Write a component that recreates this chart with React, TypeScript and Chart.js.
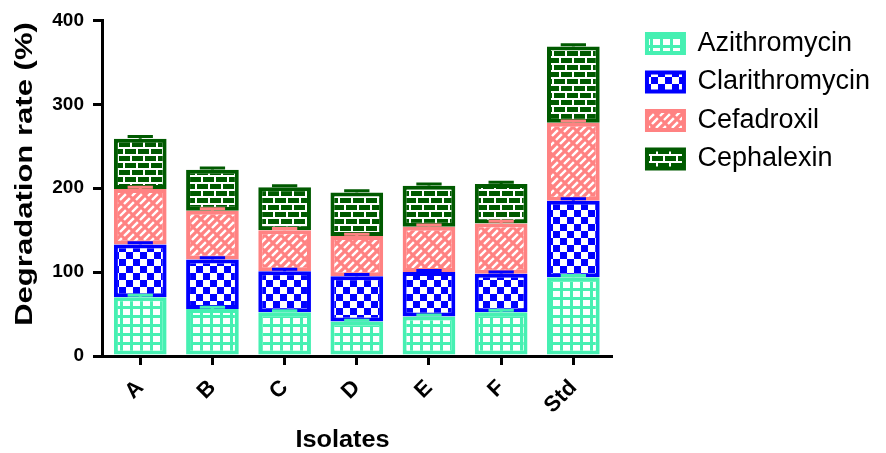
import React, { useEffect, useRef } from 'react';
import { Chart, registerables } from 'chart.js';

Chart.register(...registerables);

const FONT = "'Liberation Sans', Arial, Helvetica, sans-serif";

const categories = ['A', 'B', 'C', 'D', 'E', 'F', 'Std'];
const seriesNames = ['Azithromycin', 'Clarithromycin', 'Cefadroxil', 'Cephalexin'];

const azithromycin = [70, 56, 52, 41, 47, 52, 94];
const clarithromycin = [63, 59, 49, 54, 53, 46, 91];
const cefadroxil = [66, 58, 49, 48, 54, 60, 93];
const cephalexin = [60, 49, 51, 52, 49, 47, 91];

const azithromycinErr = [2.5, 2, 2, 1.5, 2, 2.5, 2];
const clarithromycinErr = [2, 2, 2.5, 2, 2, 2, 2.5];
const cefadroxilErr = [2, 2.5, 2, 2, 2, 2.5, 2];
const cephalexinErr = [2.5, 2, 2, 2, 2, 2, 2];

const yTicks = [0, 100, 200, 300, 400];
const yTitle = 'Degradation rate (%)';
const xTitle = 'Isolates';

const seriesValues = [azithromycin, clarithromycin, cefadroxil, cephalexin];
const seriesErrors = [azithromycinErr, clarithromycinErr, cefadroxilErr, cephalexinErr];
const colors = ['#46F0B2', '#0000FF', '#FF8282', '#005A00'];

function makePattern(kind: number, color: string): CanvasPattern | string {
  const c = document.createElement('canvas');
  const g = c.getContext('2d');
  if (!g) return color;
  if (kind === 0) {
    c.width = 10; c.height = 9;
    g.fillStyle = '#fff'; g.fillRect(0, 0, 10, 9);
    g.fillStyle = color;
    g.fillRect(0, 0, 3, 9);
    g.fillRect(0, 0, 10, 3);
  } else if (kind === 1) {
    c.width = 14; c.height = 14;
    g.fillStyle = '#fff'; g.fillRect(0, 0, 14, 14);
    g.fillStyle = color;
    g.fillRect(0, 0, 7, 7);
    g.fillRect(7, 7, 7, 7);
  } else if (kind === 2) {
    c.width = 16; c.height = 16;
    g.fillStyle = color; g.fillRect(0, 0, 16, 16);
    g.strokeStyle = '#fff'; g.lineWidth = 2.4;
    const period = 8 * Math.SQRT2;
    g.setLineDash([period - 3, 3]);
    for (let k = -3; k <= 6; k++) {
      const cc = k * 8;
      g.lineDashOffset = (((k % 2) + 2) % 2) * (period / 2);
      g.beginPath();
      g.moveTo(-16, cc + 16);
      g.lineTo(cc + 16, -16);
      g.stroke();
    }
  } else {
    c.width = 26; c.height = 14;
    g.fillStyle = color; g.fillRect(0, 0, 26, 14);
    g.fillStyle = '#fff';
    g.fillRect(0, 0, 26, 2);
    g.fillRect(0, 7, 26, 2);
    g.fillRect(0, 0, 2, 7);
    g.fillRect(13, 0, 2, 7);
    g.fillRect(6, 7, 2, 7);
    g.fillRect(19, 7, 2, 7);
  }
  const p = g.createPattern(c, 'repeat');
  return p || color;
}

const errorBars = {
  id: 'errorBars',
  afterDatasetsDraw(chart: any) {
    const ctx = chart.ctx;
    const yScale = chart.scales.y;
    seriesValues.forEach((vals, i) => {
      const meta = chart.getDatasetMeta(i);
      meta.data.forEach((el: any, j: number) => {
        let cum = 0;
        for (let k = 0; k <= i; k++) cum += seriesValues[k][j];
        const yTop = yScale.getPixelForValue(cum + seriesErrors[i][j]);
        const w = el.width * 0.48;
        ctx.save();
        ctx.strokeStyle = colors[i];
        ctx.lineWidth = 3;
        ctx.beginPath();
        ctx.moveTo(el.x, el.y);
        ctx.lineTo(el.x, yTop);
        ctx.moveTo(el.x - w / 2, yTop);
        ctx.lineTo(el.x + w / 2, yTop);
        ctx.stroke();
        ctx.restore();
      });
    });
  },
};

const axisTitles = {
  id: 'axisTitles',
  afterDraw(chart: any) {
    const ctx = chart.ctx;
    ctx.save();
    ctx.fillStyle = '#000';
    ctx.font = `bold 23px ${FONT}`;
    ctx.textAlign = 'center';
    ctx.textBaseline = 'alphabetic';
    ctx.translate(32, 174);
    ctx.rotate(-Math.PI / 2);
    ctx.scale(1.35, 1);
    ctx.fillText(yTitle, 0, 0);
    ctx.restore();

    ctx.save();
    ctx.fillStyle = '#000';
    ctx.font = `bold 23px ${FONT}`;
    ctx.textAlign = 'center';
    ctx.textBaseline = 'alphabetic';
    ctx.translate(342.5, 447);
    ctx.scale(1.1, 1);
    ctx.fillText(xTitle, 0, 0);
    ctx.restore();
  },
};

export default function App() {
  const ref = useRef<HTMLCanvasElement | null>(null);
  useEffect(() => {
    if (!ref.current) return;
    const patterns = colors.map((c, i) => makePattern(i, c));
    const border = { display: true, width: 3, color: '#000' };
    const chart = new Chart(ref.current, {
      type: 'bar',
      data: {
        datasets: seriesNames.map((name, i) => ({
          label: name,
          data: seriesValues[i].map((v, j) => ({ x: j, y: v })),
          backgroundColor: patterns[i],
          borderColor: colors[i],
          borderWidth: 4,
          borderSkipped: false,
          barPercentage: 0.73,
          categoryPercentage: 1,
        })),
      },
      options: {
        animation: false,
        responsive: true,
        maintainAspectRatio: false,
        layout: { padding: { top: 18.5, right: 6, bottom: 0, left: 0 } },
        plugins: {
          legend: {
            position: 'right',
            align: 'start',
            maxWidth: 400,
            labels: {
              boxWidth: 37,
              boxHeight: 19,
              padding: 11.5,
              color: '#000',
              font: { family: FONT, size: 27 },
            },
          },
          tooltip: { enabled: false },
        },
        scales: {
          x: {
            type: 'linear',
            offset: false,
            min: -0.53,
            max: 6.535,
            stacked: true,
            afterBuildTicks: (s: any) => { s.ticks = categories.map((_, i) => ({ value: i })); },
            afterFit: (s: any) => { s.height = 97; },
            ticks: {
              callback: (v: any) => categories[v] ?? '',
              autoSkip: false,
              minRotation: 45,
              maxRotation: 45,
              padding: 10,
              color: '#000',
              font: { family: FONT, size: 22, weight: 'bold' },
            },
            grid: { display: true, offset: false, drawOnChartArea: false, drawTicks: true, tickLength: 9, lineWidth: 3, color: '#000' },
            border,
          },
          y: {
            type: 'linear',
            stacked: true,
            min: 0,
            max: 400,
            afterBuildTicks: (s: any) => { s.ticks = yTicks.map((v) => ({ value: v })); },
            afterFit: (s: any) => { s.width = 102; },
            ticks: {
              padding: 9,
              color: '#000',
              font: { family: FONT, size: 19, weight: 'bold' },
            },
            grid: { display: true, drawOnChartArea: false, drawTicks: true, tickLength: 9, lineWidth: 3, color: '#000' },
            border,
          },
          y2: {
            type: 'linear',
            position: 'right',
            display: true,
            grid: { display: false },
            ticks: { display: false },
            border: { display: false },
            afterFit: (s: any) => { s.width = 23.5; },
          },
        },
      },
      plugins: [errorBars, axisTitles],
    } as any);
    return () => chart.destroy();
  }, []);
  return (
    <div style={{ position: 'fixed', left: 0, top: 0, width: 886, height: 453 }}>
      <canvas ref={ref} />
    </div>
  );
}
